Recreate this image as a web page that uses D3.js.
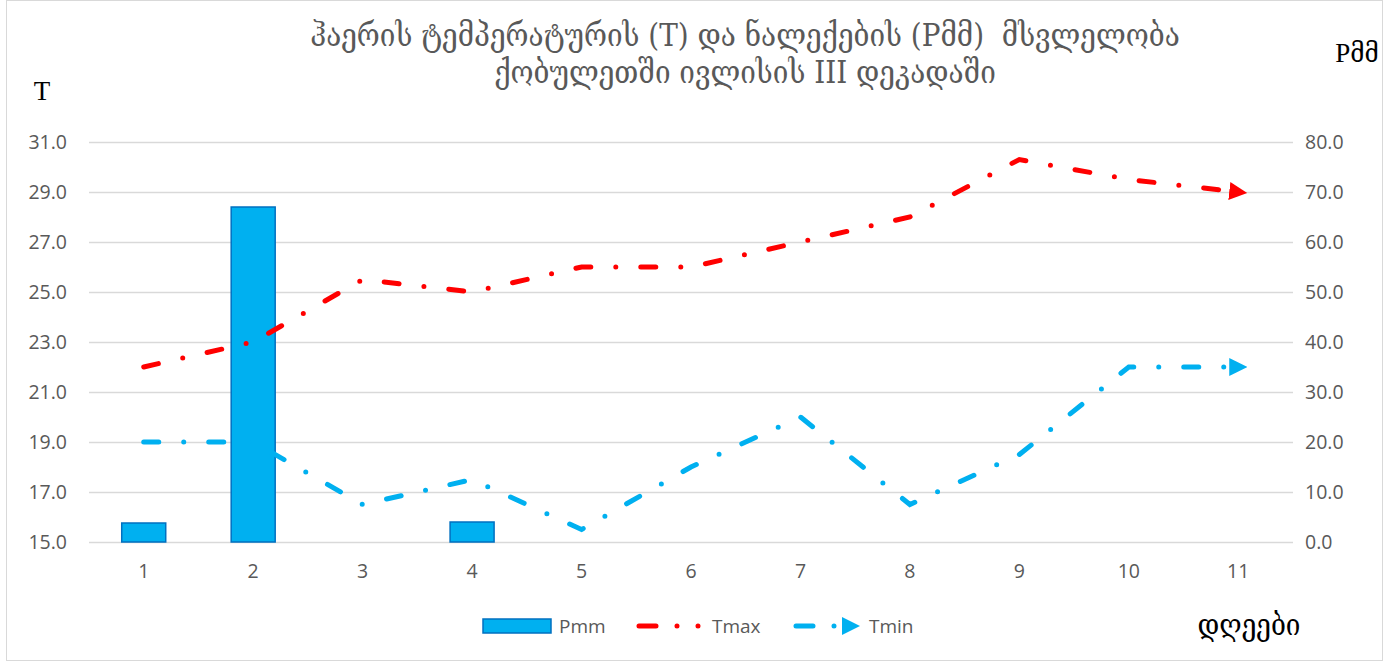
<!DOCTYPE html>
<html>
<head>
<meta charset="utf-8">
<script src="https://cdn.jsdelivr.net/npm/d3@7"></script>
<style>
  body { margin: 0; background: #fff; }
  svg text { font-family: "Open Sans", "Liberation Sans", sans-serif; }
</style>
</head>
<body>
<div id="chart"></div>
<script>
const width = 1394;
const height = 663;

// Data
const days = ["1", "2", "3", "4", "5", "6", "7", "8", "9", "10", "11"];
const pmm = [3.8, 67.0, 0, 4.0, 0, 0, 0, 0, 0, 0, 0];
const tmax = [22.0, 23.0, 25.5, 25.0, 26.0, 26.0, 27.0, 28.0, 30.3, 29.5, 29.0];
const tmin = [19.0, 19.0, 16.5, 17.5, 15.5, 18.0, 20.0, 16.5, 18.5, 22.0, 22.0];
const tTicks = [15, 17, 19, 21, 23, 25, 27, 29, 31];
const pTicks = [0, 10, 20, 30, 40, 50, 60, 70, 80];

const titleLines = [
	"ჰაერის ტემპერატურის (T) და ნალექების (Pმმ)  მსვლელობა",
	"ქობულეთში ივლისის III დეკადაში"
];

const plot = { left: 89, right: 1293, top: 142, bottom: 542 };

const svg = d3.select("#chart")
	.append("svg")
	.attr("width", width)
	.attr("height", height);

// marker for line ends
const defs = svg.append("defs");
[["arrRed", "#FF0000"], ["arrBlue", "#00B0F0"]].forEach(([id, c]) => {
	defs.append("marker")
		.attr("id", id)
		.attr("viewBox", "0 0 10 10")
		.attr("refX", 5)
		.attr("refY", 5)
		.attr("markerUnits", "userSpaceOnUse")
		.attr("markerWidth", 18)
		.attr("markerHeight", 18)
		.attr("orient", "auto")
		.append("path")
		.attr("d", "M0,0 L10,5 L0,10 Z")
		.attr("fill", c);
});

// frame
svg.append("rect")
	.attr("x", 6.5).attr("y", 0.5)
	.attr("width", 1376).attr("height", 660)
	.attr("fill", "#fff")
	.attr("stroke", "#D9D9D9");

const x = d3.scaleBand()
	.domain(days)
	.range([plot.left, plot.right]);

const yT = d3.scaleLinear().domain([15, 31]).range([plot.bottom, plot.top]);
const yP = d3.scaleLinear().domain([0, 80]).range([plot.bottom, plot.top]);

// gridlines
svg.append("g")
	.selectAll("line")
	.data(tTicks)
	.enter().append("line")
	.attr("x1", plot.left).attr("x2", plot.right)
	.attr("y1", d => Math.round(yT(d)) + 0.5)
	.attr("y2", d => Math.round(yT(d)) + 0.5)
	.attr("stroke", "#D9D9D9")
	.attr("stroke-width", 1.5);

// axes (text only)
const leftAxis = svg.append("g")
	.attr("transform", `translate(${plot.left},0)`)
	.call(d3.axisLeft(yT).tickValues(tTicks).tickFormat(d3.format(".1f")).tickSize(0).tickPadding(22));
const rightAxis = svg.append("g")
	.attr("transform", `translate(${plot.right},0)`)
	.call(d3.axisRight(yP).tickValues(pTicks).tickFormat(d3.format(".1f")).tickSize(0).tickPadding(12));
const bottomAxis = svg.append("g")
	.attr("transform", `translate(0,${plot.bottom})`)
	.call(d3.axisBottom(x).tickSize(0).tickPadding(22));

[leftAxis, rightAxis, bottomAxis].forEach(g => {
	g.select(".domain").remove();
	g.selectAll("text")
		.attr("fill", "#595959")
		.style("font-size", "19.5px")
		.style("font-family", "'Open Sans', 'Liberation Sans', sans-serif");
});

// bars
const barW = 44;
svg.append("g")
	.selectAll("rect")
	.data(pmm.map((v, i) => ({ day: days[i], v })).filter(d => d.v > 0))
	.enter().append("rect")
	.attr("x", d => x(d.day) + x.bandwidth() / 2 - barW / 2)
	.attr("y", d => yP(d.v))
	.attr("width", barW)
	.attr("height", d => yP(0) - yP(d.v))
	.attr("fill", "#00B0F0")
	.attr("stroke", "#0070C0")
	.attr("stroke-width", 1.5);

// lines
const line = d3.line()
	.x((d, i) => x(days[i]) + x.bandwidth() / 2)
	.y(d => yT(d));

svg.append("path")
	.datum(tmax)
	.attr("d", line)
	.attr("fill", "none")
	.attr("stroke", "#FF0000")
	.attr("stroke-width", 5)
	.attr("stroke-linecap", "round")
	.attr("stroke-dasharray", "15 25 0 25")
	.attr("marker-end", "url(#arrRed)");

svg.append("path")
	.datum(tmin)
	.attr("d", line)
	.attr("fill", "none")
	.attr("stroke", "#00B0F0")
	.attr("stroke-width", 5)
	.attr("stroke-linecap", "round")
	.attr("stroke-dasharray", "15 25 0 25")
	.attr("marker-end", "url(#arrBlue)");

// title
const georgian = "'DejaVu Serif Condensed', 'DejaVu Serif', 'DejaVu Sans', serif";
svg.append("g")
	.selectAll("text")
	.data(titleLines)
	.enter().append("text")
	.attr("x", 745)
	.attr("y", (d, i) => 46 + i * 37)
	.attr("text-anchor", "middle")
	.attr("fill", "#595959")
	.style("font-family", georgian)
	.style("font-size", "31px")
	.style("white-space", "pre")
	.text(d => d);

// axis titles
svg.append("text")
	.attr("x", 42).attr("y", 100)
	.attr("text-anchor", "middle")
	.attr("fill", "#000")
	.style("font-family", "'Liberation Serif', serif")
	.style("font-size", "27px")
	.text("T");

svg.append("text")
	.attr("x", 1357).attr("y", 62)
	.attr("text-anchor", "middle")
	.attr("fill", "#000")
	.style("font-family", "'Liberation Serif', " + georgian)
	.style("font-size", "27px")
	.text("Pმმ");

svg.append("text")
	.attr("x", 1249).attr("y", 635)
	.attr("text-anchor", "middle")
	.attr("fill", "#000")
	.style("font-family", georgian)
	.style("font-size", "29px")
	.text("დღეები");

// legend
const legend = svg.append("g");
const ly = 626;
legend.append("rect")
	.attr("x", 483).attr("y", ly - 7)
	.attr("width", 68).attr("height", 14)
	.attr("fill", "#00B0F0")
	.attr("stroke", "#0070C0")
	.attr("stroke-width", 1.5);
legend.append("text")
	.attr("x", 559).attr("y", ly).attr("dy", "0.35em")
	.attr("fill", "#595959").style("font-size", "19px")
	.text("Pmm");

legend.append("line")
	.attr("x1", 639).attr("x2", 705)
	.attr("y1", ly).attr("y2", ly)
	.attr("stroke", "#FF0000").attr("stroke-width", 5)
	.attr("stroke-linecap", "round")
	.attr("stroke-dasharray", "17 21 0 21 0 30");
legend.append("text")
	.attr("x", 712).attr("y", ly).attr("dy", "0.35em")
	.attr("fill", "#595959").style("font-size", "19px")
	.text("Tmax");

legend.append("line")
	.attr("x1", 796).attr("x2", 851)
	.attr("y1", ly).attr("y2", ly)
	.attr("stroke", "#00B0F0").attr("stroke-width", 5)
	.attr("stroke-linecap", "round")
	.attr("stroke-dasharray", "17 21 0 30")
	.attr("marker-end", "url(#arrBlue)");
legend.append("text")
	.attr("x", 869).attr("y", ly).attr("dy", "0.35em")
	.attr("fill", "#595959").style("font-size", "19px")
	.text("Tmin");
</script>
</body>
</html>
